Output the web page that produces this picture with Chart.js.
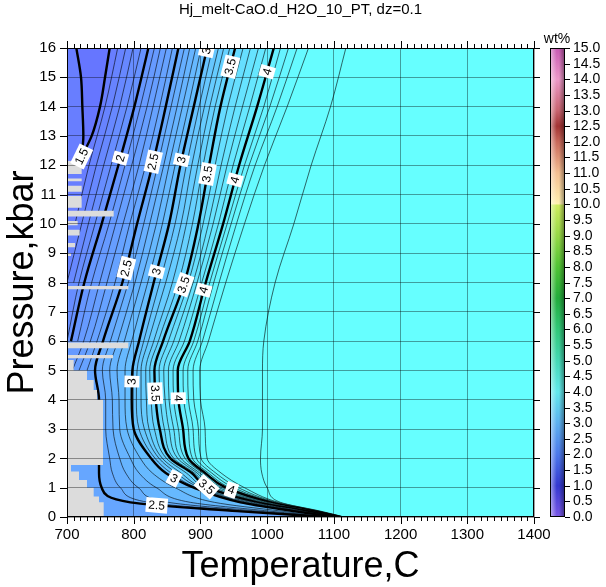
<!DOCTYPE html>
<html>
<head>
<meta charset="utf-8">
<script src="https://cdn.jsdelivr.net/npm/chart.js@4.4.1/dist/chart.umd.min.js"></script>
<style>
  html, body { margin: 0; padding: 0; background: #fff; }
</style>
</head>
<body>
<canvas id="chart" width="606" height="587"></canvas>
<script>
// pressure levels (kbar) at which every isoline is sampled
const pGrid = [16, 14, 12, 10, 8, 6, 5, 4, 3, 2, 1.5, 1, 0.5, 0.2, 0];

// temperature (C) of each wt% isoline at the pressures above, null = not present
const t16 = [776, 757, 733, 712, null, null, null, null, null, null, null, null, null, null, null];
const t17 = [788, 768, 744, 722, 700, null, null, null, null, null, null, null, null, null, null];
const t18 = [799, 779, 755, 732, 710, null, null, null, null, null, null, null, null, null, null];
const t19 = [811, 790, 766, 742, 718, 700, null, null, null, null, null, null, null, null, null];
const t20 = [822, 801, 777, 752, 726, 706, null, null, null, null, null, null, null, null, null];
const t21 = [831, 810, 787, 763, 737, 716, null, null, null, null, null, null, null, null, null];
const t22 = [840, 820, 797, 773, 749, 725, 708, null, null, null, null, null, null, null, null];
const t23 = [849, 829, 808, 784, 760, 735, 718, null, null, null, null, null, null, null, null];
const t24 = [858, 839, 818, 794, 772, 745, 730, null, null, null, null, null, null, null, null];
const t25 = [867, 848, 828, 805, 783, 754, 742, 748, 748, 748, 748, 752, 795, 955, 1090];
const t26 = [876, 856, 836, 815, 792, 765, 753, 758, 758, 764, 768, 780, 822, 970, 1092];
const t27 = [884, 865, 845, 824, 802, 776, 764, 768, 769, 779, 788, 807, 852, 987, 1094];
const t28 = [893, 873, 853, 834, 811, 786, 775, 778, 779, 795, 808, 834, 885, 1004, 1096];
const t29 = [901, 882, 862, 843, 821, 797, 787, 787, 790, 810, 828, 862, 921, 1022, 1098];
const t30 = [910, 890, 870, 853, 830, 808, 798, 797, 800, 826, 848, 890, 960, 1040, 1100];
const t31 = [918, 898, 879, 862, 839, 815, 805, 804, 808, 832, 856, 894, 965, 1044, 1101];
const t32 = [927, 906, 887, 871, 848, 822, 811, 811, 816, 838, 864, 899, 970, 1048, 1102];
const t33 = [935, 914, 896, 879, 858, 830, 818, 819, 823, 843, 871, 903, 975, 1052, 1103];
const t34 = [944, 922, 904, 888, 867, 837, 824, 826, 831, 849, 879, 908, 980, 1056, 1104];
const t35 = [952, 930, 913, 897, 876, 844, 831, 833, 839, 855, 887, 912, 985, 1060, 1105];
const t36 = [964, 941, 922, 904, 882, 852, 838, 840, 846, 860, 891, 917, 989, 1062, 1106];
const t37 = [975, 952, 931, 912, 889, 860, 845, 847, 853, 866, 895, 922, 993, 1064, 1107];
const t38 = [987, 963, 940, 919, 895, 868, 852, 853, 860, 871, 899, 928, 997, 1066, 1108];
const t39 = [998, 974, 949, 927, 902, 876, 859, 860, 867, 877, 903, 933, 1001, 1068, 1109];
const t40 = [1010, 985, 958, 934, 908, 884, 866, 867, 874, 882, 907, 938, 1005, 1070, 1110];
const t41 = [1020, 995, 966, 940, 914, 890, 874, 875, 882, 888, 912, 944, 1008, 1072, 1111];
const t42 = [1032, 1004, 973, 946, 920, 896, 881, 882, 889, 894, 917, 950, 1011, 1074, 1112];
const t43 = [1045, 1015, 982, 954, 928, 903, 889, 890, 897, 901, 923, 957, 1014, 1076, 1113];
const t44 = [1062, 1030, 996, 966, 938, 912, 899, 900, 907, 910, 931, 966, 1017, 1078, 1114];
const t45 = [1118, 1095, 1066, 1040, 1012, 995, 993, 993, 993, 990, 992, 1000, 1020, 1080, 1116];

// the 1.5 isoline is a V near the top left corner
const p15 = [16, 15, 14, 13, 12.3];
const t15Left = [714, 721, 723, 724.5, 722];
const t15Right = [764, 757, 749.5, 737, 722];

// grey area = no data; each step runs from pHigh down to pLow, from 700 C to tRight
const grayPHigh = [12.15, 11.55, 11.3, 10.95, 10.45, 10.1, 9.8, 9.35, 9.0, 7.88, 5.95, 5.53, 5.36, 5.0, 4.67, 4.33, 4.0, 1.77, 1.55, 1.26, 1.0, 0.7, 0.5];
const grayPLow  = [11.7, 11.45, 11.1, 10.55, 10.25, 9.95, 9.6, 9.2, 8.9, 7.77, 5.76, 5.42, 5.0, 4.67, 4.33, 4.0, 1.77, 1.55, 1.26, 1.0, 0.7, 0.5, 0];
const grayTRight = [722, 722, 722, 722, 770, 716, 719, 712, 706, 792, 792, 769, 710, 730, 740, 745, 754, 706, 718, 730, 740, 748, 755];

// contour labels: level and pressure where the label sits on the line
const labelLevels = [1.5, 2, 2.5, 3, 3.5, 4, 3, 3.5, 4, 2.5, 3, 3.5, 4, 3, 3.5, 4, 3, 3.5, 4, 2.5];
const labelP = [12.3, 12.24, 12.12, 12.18, 11.7, 11.5, 15.9, 15.36, 15.19, 8.49, 8.37, 7.92, 7.74, 4.62, 4.22, 4.05, 1.32, 1.03, 0.92, 0.4];
const majorLevels = [1.5, 2, 2.5, 3, 3.5, 4];

// colour scale: fill colours of the plot and the colour bar
const bandStops = [1.4, 1.5, 2.0, 2.5, 3.0, 3.5, 4.0, 4.5];
const bandRGB = [[100,112,255],[104,124,255],[102,148,255],[102,168,255],[102,192,255],[102,216,255],[102,238,255],[102,255,255]];
const barValues = [0, 1, 2, 3, 4, 5, 6, 7, 8, 9, 9.99, 10, 11, 12, 12.5, 13, 14, 15];
const barColors = ['#7a58e6', '#3438d0', '#4c78ea', '#5cb0f0', '#62e8ec', '#44d8b4', '#30c878', '#22ac3c', '#50c434', '#96d846', '#cfec5e', '#fff0b0', '#f4bf92', '#c8685a', '#a33434', '#c86470', '#ec98c8', '#c85ab4'];

const FONT = "'Liberation Sans', Arial, Helvetica, sans-serif";

function bandColor(v) {
  if (v <= bandStops[0]) return `rgb(${bandRGB[0].join(',')})`;
  for (let i = 1; i < bandStops.length; i++) {
    if (v <= bandStops[i]) {
      const f = (v - bandStops[i - 1]) / (bandStops[i] - bandStops[i - 1]);
      const c = bandRGB[i - 1].map((a, k) => Math.round(a + (bandRGB[i][k] - a) * f));
      return `rgb(${c.join(',')})`;
    }
  }
  return `rgb(${bandRGB[bandRGB.length - 1].join(',')})`;
}

function toPoints(temps, press) {
  const pts = [];
  temps.forEach((t, i) => { if (t !== null) pts.push({ x: t, y: press[i] }); });
  return pts;
}

const isolines = [
  [1.6, t16], [1.7, t17], [1.8, t18], [1.9, t19], [2.0, t20],
  [2.1, t21], [2.2, t22], [2.3, t23], [2.4, t24], [2.5, t25],
  [2.6, t26], [2.7, t27], [2.8, t28], [2.9, t29], [3.0, t30],
  [3.1, t31], [3.2, t32], [3.3, t33], [3.4, t34], [3.5, t35],
  [3.6, t36], [3.7, t37], [3.8, t38], [3.9, t39], [4.0, t40],
  [4.1, t41], [4.2, t42], [4.3, t43], [4.4, t44], [4.5, t45]
];

function lineDataset(level, points, fillColor, major) {
  return {
    level: level,
    data: points,
    borderColor: '#000',
    borderWidth: major ? 2.4 : 0.6,
    pointRadius: 0,
    cubicInterpolationMode: 'monotone',
    fill: { value: 700 },
    backgroundColor: fillColor
  };
}

// grey staircase
const grayPoints = [];
grayPHigh.forEach((ph, i) => {
  if (i > 0 && grayPLow[i - 1] > ph) {
    grayPoints.push({ x: 700, y: grayPLow[i - 1] });
    grayPoints.push({ x: 700, y: ph });
  }
  grayPoints.push({ x: grayTRight[i], y: ph });
  grayPoints.push({ x: grayTRight[i], y: grayPLow[i] });
});

// first dataset is drawn last
const datasets = [{
  level: null,
  data: grayPoints,
  borderWidth: 0,
  borderColor: 'rgba(0,0,0,0)',
  pointRadius: 0,
  tension: 0,
  fill: { value: 700 },
  backgroundColor: '#dcdcdc'
}];
datasets.push(lineDataset('1.5L', toPoints(t15Left, p15), bandColor(1.55), true));
datasets.push(lineDataset(1.5, toPoints(t15Right, p15), bandColor(1.45), true));
isolines.forEach(([level, temps]) => {
  datasets.push(lineDataset(level, toPoints(temps, pGrid), bandColor(level - 0.05), majorLevels.includes(level)));
});

const decor = {
  id: 'decor',
  beforeDatasetsDraw(chart) {
    const { ctx, chartArea: a } = chart;
    ctx.save();
    ctx.fillStyle = '#66ffff';
    ctx.fillRect(a.left, a.top, a.right - a.left, a.bottom - a.top);
    ctx.restore();
  },
  afterDraw(chart) {
    const { ctx, chartArea: a } = chart;
    const xs = chart.scales.x, ys = chart.scales.y;

    // contour labels, placed on the drawn line and turned along it
    ctx.save();
    ctx.beginPath();
    ctx.rect(a.left, a.top, a.right - a.left, a.bottom - a.top);
    ctx.clip();
    ctx.font = `12px ${FONT}`;
    ctx.textAlign = 'center';
    ctx.textBaseline = 'middle';
    labelLevels.forEach((lv, i) => {
      const idx = chart.data.datasets.findIndex(d => d.level === lv);
      if (idx < 0) return;
      const meta = chart.getDatasetMeta(idx);
      const pts = meta.data;
      const py = ys.getPixelForValue(labelP[i]);
      let cx = null, ang = 0;
      for (let k = 0; k < pts.length - 1; k++) {
        const a1 = pts[k], a2 = pts[k + 1];
        if ((a1.y - py) * (a2.y - py) <= 0 && a1.y !== a2.y) {
          const f = (py - a1.y) / (a2.y - a1.y);
          cx = a1.x + f * (a2.x - a1.x);
          ang = Math.atan2(a2.y - a1.y, a2.x - a1.x);
          break;
        }
      }
      if (cx === null) return;
      const onLine = meta.dataset.interpolate({ y: py }, 'y');
      const c = Array.isArray(onLine) ? onLine[0] : onLine;
      if (c && isFinite(c.x)) cx = c.x;
      if (ang > Math.PI / 2) ang -= Math.PI;
      if (ang < -Math.PI / 2) ang += Math.PI;
      const txt = String(lv);
      const w = ctx.measureText(txt).width + 5;
      ctx.save();
      ctx.translate(cx, py);
      ctx.rotate(ang);
      ctx.fillStyle = '#fff';
      ctx.fillRect(-w / 2, -7.5, w, 15);
      ctx.fillStyle = '#000';
      ctx.fillText(txt, 0, 0.5);
      ctx.restore();
    });
    ctx.restore();

    // frame and tick marks
    ctx.save();
    ctx.strokeStyle = '#000';
    ctx.lineWidth = 1;
    ctx.strokeRect(a.left + 0.5, a.top + 0.5, a.right - a.left - 1, a.bottom - a.top - 1);
    ctx.beginPath();
    for (let t = 700; t <= 1400; t += 10) {
      const x = Math.round(xs.getPixelForValue(t)) + 0.5;
      const len = t % 100 === 0 ? 7 : 4;
      ctx.moveTo(x, a.bottom); ctx.lineTo(x, a.bottom + len);
      ctx.moveTo(x, a.top); ctx.lineTo(x, a.top - len);
    }
    for (let p = 0; p <= 16; p += 1) {
      const y = Math.round(ys.getPixelForValue(p)) + 0.5;
      ctx.moveTo(a.left, y); ctx.lineTo(a.left - 7, y);
      ctx.moveTo(a.right, y); ctx.lineTo(a.right + 6, y);
    }
    ctx.stroke();
    ctx.restore();

    // title
    ctx.save();
    ctx.fillStyle = '#000';
    ctx.font = `15px ${FONT}`;
    ctx.textAlign = 'center';
    ctx.textBaseline = 'middle';
    ctx.fillText('Hj_melt-CaO.d_H2O_10_PT, dz=0.1', (a.left + a.right) / 2, 10);
    ctx.restore();

    // colour bar
    const bx = 550, bw = 15, top = a.top, bot = a.bottom;
    const vmax = barValues[barValues.length - 1];
    const yOf = v => bot - (v / vmax) * (bot - top);
    ctx.save();
    const g = ctx.createLinearGradient(0, bot, 0, top);
    barValues.forEach((v, i) => g.addColorStop(v / vmax, barColors[i]));
    ctx.fillStyle = g;
    ctx.fillRect(bx, top, bw, bot - top);
    const sh = ctx.createLinearGradient(bx, 0, bx + bw, 0);
    sh.addColorStop(0, 'rgba(255,255,255,0.55)');
    sh.addColorStop(0.45, 'rgba(255,255,255,0)');
    sh.addColorStop(0.6, 'rgba(0,0,0,0)');
    sh.addColorStop(1, 'rgba(0,0,0,0.45)');
    ctx.fillStyle = sh;
    ctx.fillRect(bx, top, bw, bot - top);
    ctx.strokeStyle = '#000';
    ctx.lineWidth = 1;
    ctx.strokeRect(bx + 0.5, top + 0.5, bw - 1, bot - top - 1);
    ctx.font = `14px ${FONT}`;
    ctx.fillStyle = '#000';
    ctx.textAlign = 'left';
    ctx.textBaseline = 'middle';
    ctx.beginPath();
    for (let v = 0; v <= vmax + 1e-9; v += 0.5) {
      const y = Math.round(yOf(v)) + 0.5;
      ctx.moveTo(bx + bw, y); ctx.lineTo(bx + bw + 5, y);
      ctx.fillText(v.toFixed(1), bx + bw + 8, y);
    }
    ctx.stroke();
    ctx.textAlign = 'center';
    ctx.fillText('wt%', bx + 7, top - 9);
    ctx.restore();
  }
};

new Chart(document.getElementById('chart'), {
  type: 'line',
  data: { datasets: datasets },
  plugins: [decor],
  options: {
    responsive: false,
    animation: false,
    events: [],
    indexAxis: 'y',
    layout: { padding: { top: 48, right: 72, bottom: 0, left: 0 } },
    plugins: {
      legend: { display: false },
      tooltip: { enabled: false },
      filler: { drawTime: 'beforeDatasetDraw' }
    },
    scales: {
      x: {
        type: 'linear',
        position: 'bottom',
        min: 700,
        max: 1400,
        ticks: { stepSize: 100, color: '#000', font: { family: FONT, size: 15 }, padding: 9, maxRotation: 0, callback: v => String(v) },
        grid: { z: 1, color: 'rgba(0,0,0,0.55)', lineWidth: 0.7, drawTicks: false },
        border: { display: false },
        title: { display: true, text: 'Temperature,C', color: '#000', font: { family: FONT, size: 36, lineHeight: 1.1 }, padding: 0 },
        afterFit(s) { s.height = 70; }
      },
      y: {
        type: 'linear',
        position: 'left',
        min: 0,
        max: 16,
        ticks: { stepSize: 1, color: '#000', font: { family: FONT, size: 15 }, padding: 11, callback: v => String(v) },
        grid: { z: 1, color: 'rgba(0,0,0,0.55)', lineWidth: 0.7, drawTicks: false },
        border: { display: false },
        title: { display: true, text: 'Pressure,kbar', color: '#000', font: { family: FONT, size: 36, lineHeight: 1.3 }, padding: 0 },
        afterFit(s) { s.width = 67; }
      }
    }
  }
});
</script>
</body>
</html>
